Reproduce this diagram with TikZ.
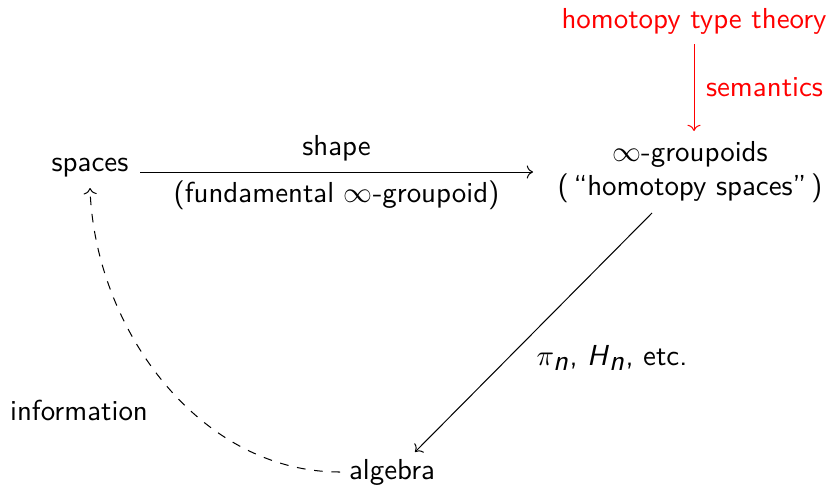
\documentclass[tikz,border=0pt]{standalone}
\usetikzlibrary{cd}
\newcommand\sfit[1]{\textsf{\textit{#1}}}
\begin{document}
\begin{tikzpicture}[x=0.346pt,y=-0.346pt,
  lbl/.style={font=\sffamily, inner sep=1pt},
  arr/.style={->, >=cm to, line width=0.35pt}]
\useasboundingbox (0,0) rectangle (830,487);
\node[lbl, text=red] (htt) at (694,21) {homotopy type theory};
\node[lbl, align=center] (grp) at (690,172) {$\infty$-groupoids\\(\,``homotopy spaces''\,)};
\node[lbl] (spc) at (90,168) {spaces};
\node[lbl] (alg) at (392,472) {algebra};
\coordinate (semA) at (694,44);
\coordinate (semB) at (694,131);
\draw[arr, red] (semA) -- node[lbl, right=3pt] {semantics} (semB);
\coordinate (shA) at (140,172);
\coordinate (shB) at (533,172);
\draw[arr] (shA) -- node[lbl, above=2.5pt] {shape} node[lbl, below=2pt] {(fundamental $\infty$-groupoid)} (shB);
\coordinate (dA) at (652,213);
\coordinate (dB) at (415,452);
\draw[arr] (dA) -- (dB);
\node[lbl] (pin) at (612,358) {$\pi_{\sfit{n}}$, $\sfit{H}_{\sfit{n}}$, etc.};
\coordinate (cA) at (340,472);
\coordinate (cB) at (90,188);
\draw[arr, dashed] (cA) to[out=180, in=-88, looseness=0.95] (cB);
\node[lbl] (inf) at (79,410) {information};
\end{tikzpicture}
\end{document}
